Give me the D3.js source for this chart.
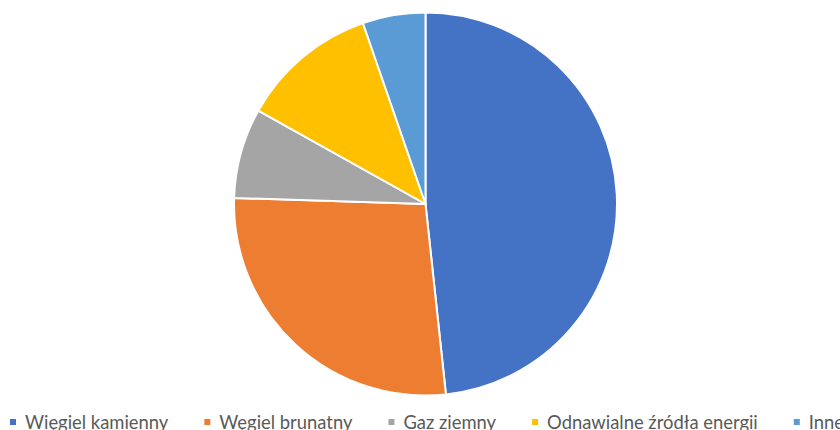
<!DOCTYPE html>
<html><head><meta charset="utf-8">
<script src="https://cdn.jsdelivr.net/npm/d3@7"></script>
<style>body{margin:0;background:#fff;}svg{display:block;}</style>
</head><body>
<svg id="chart" width="840" height="430"></svg>
<script>
const categories = ["Więgiel kamienny", "Węgiel brunatny", "Gaz ziemny", "Odnawialne źródła energii", "Inne"];
const values = [48.3, 27.2, 7.6, 11.6, 5.3];
const colors = ["#4472C4", "#ED7D31", "#A5A5A5", "#FFC000", "#5B9BD5"];

const svg = d3.select("#chart");
const cx = 425.5, cy = 204, r = 191.5;
const pie = d3.pie().sort(null).value(d => d)(values);
const arc = d3.arc().innerRadius(0).outerRadius(r);
const color = d3.scaleOrdinal().domain(categories).range(colors);

svg.append("g").attr("transform", `translate(${cx},${cy})`)
  .selectAll("path").data(pie).join("path")
  .attr("d", arc)
  .attr("fill", (d, i) => color(categories[i]))
  .attr("stroke", "#fff").attr("stroke-width", 2).attr("stroke-linejoin", "round");

const leg = svg.append("g").attr("font-family", "Lato, 'Open Sans', sans-serif").attr("font-size", 18.4).attr("fill", "#595959");
let x = 10;
categories.forEach((c, i) => {
  const g = leg.append("g").attr("transform", `translate(${x},0)`);
  g.append("rect").attr("x", 0).attr("y", 419).attr("width", 6).attr("height", 6).attr("fill", color(c));
  const t = g.append("text").attr("x", 15).attr("y", 428.5).text(c);
  x += 15 + t.node().getComputedTextLength() + 36;
});
</script>
</body></html>
